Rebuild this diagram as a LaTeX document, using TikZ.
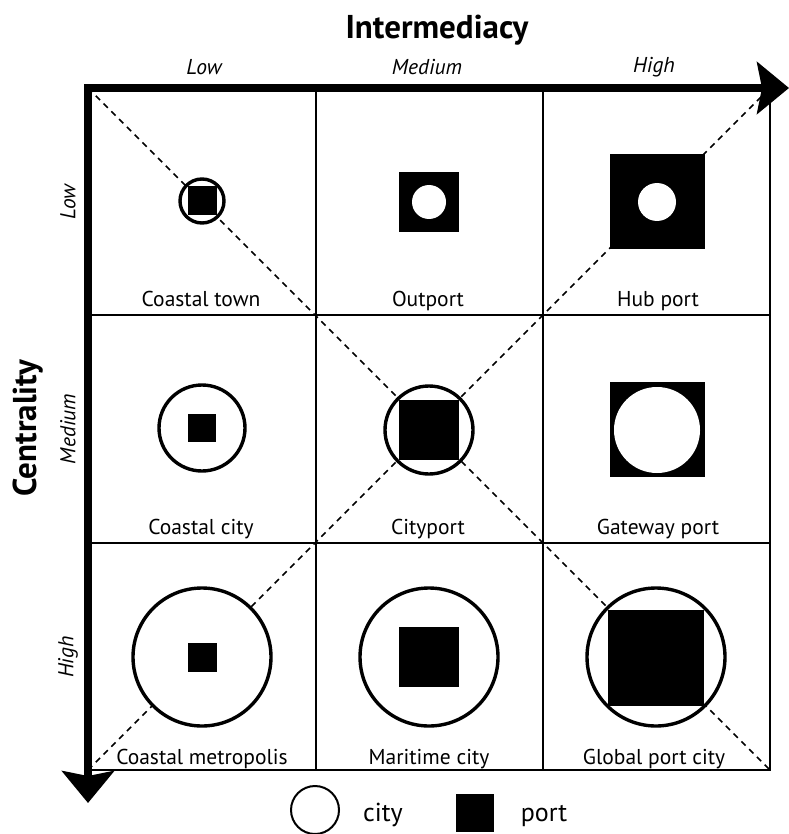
\documentclass[tikz,border=0pt]{standalone}
\usepackage{fontspec}
\setmainfont{PT Sans}
\usetikzlibrary{arrows.meta}
\begin{document}
\begin{tikzpicture}[x=1pt,y=-1pt,
 gridline/.style={line width=1.6pt},
 diag/.style={line width=1.6pt, dash pattern=on 6pt off 5pt},
 city/.style={draw, line width=3.4pt, fill=white},
 port/.style={fill=black},
 hole/.style={fill=white},
 lab/.style={font=\fontsize{21.5}{24}\selectfont, inner sep=0pt, anchor=base},
 leg/.style={font=\fontsize{26}{30}\selectfont, inner sep=0pt, anchor=base},
 axl/.style={font=\fontsize{21.5}{24}\selectfont\itshape},
 ttl/.style={font=\fontsize{33}{38}\selectfont\bfseries},
 axhead/.tip={Stealth[length=32pt,width=52pt,inset=5pt]}]
\useasboundingbox (0,0) rectangle (788,834);
\fill[white] (0,0) rectangle (788,834);
% diagonals
\draw[diag] (88,88) -- (770,770);
\draw[diag] (88,770) -- (770,88);
% grid
\draw[gridline] (316,88) -- (316,770);
\draw[gridline] (543,88) -- (543,770);
\draw[gridline] (88,315) -- (770,315);
\draw[gridline] (88,543) -- (770,543);
\draw[gridline] (770,88) -- (770,770) -- (88,770);
% row 1
\draw[city] (202,201) circle[radius=22];
\fill[port] (187.5,186.5) rectangle (216.5,215.5);
\fill[port] (399,172) rectangle (459,232);
\fill[hole] (429,202) circle[radius=17];
\fill[port] (610,154) rectangle (705,249);
\fill[hole] (657,202) circle[radius=19];
% row 2
\draw[city] (202,428) circle[radius=43];
\fill[port] (188,414) rectangle (216,442);
\draw[city] (429,430) circle[radius=44];
\fill[port] (399,400) rectangle (459,460);
\fill[port] (610,382) rectangle (705,477);
\fill[hole] (657,430) circle[radius=43];
% row 3
\draw[city] (202,657) circle[radius=69];
\fill[port] (187.5,642.5) rectangle (216.5,671.5);
\draw[city] (429,657) circle[radius=69];
\fill[port] (399,627) rectangle (459,687);
\draw[city] (656,657) circle[radius=69];
\fill[port] (608,610) rectangle (704,706);
% cell labels
\node[lab] (l11) at (201,306) {Coastal town};
\node[lab] (l12) at (428,306) {Outport};
\node[lab] (l13) at (658,306) {Hub port};
\node[lab] (l21) at (201,534) {Coastal city};
\node[lab] (l22) at (428,534) {Cityport};
\node[lab] (l23) at (658,534) {Gateway port};
\node[lab] (l31) at (202,764) {Coastal metropolis};
\node[lab] (l32) at (429,764) {Maritime city};
\node[lab] (l33) at (654,764) {Global port city};
% axes
\draw[line width=8pt, line join=miter, axhead-axhead] (88,803) -- (88,88) -- (789,88);
\node[ttl] (tx) at (437,30) {Intermediacy};
\node[ttl, rotate=90] (ty) at (28,428) {Centrality};
\node[axl] (xl) at (204,67) {Low};
\node[axl] (xm) at (427,67) {Medium};
\node[axl] (xh) at (654,67) {High};
\node[axl, rotate=90] (yl) at (68,202) {Low};
\node[axl, rotate=90] (ym) at (68,429) {Medium};
\node[axl, rotate=90] (yh) at (68,657) {High};
% legend
\draw[line width=2pt] (315,810) circle[radius=24];
\node[leg] (lc) at (383,821) {city};
\fill[port] (456,794) rectangle (494,832);
\node[leg] (lp) at (544,821) {port};
\end{tikzpicture}
\end{document}
